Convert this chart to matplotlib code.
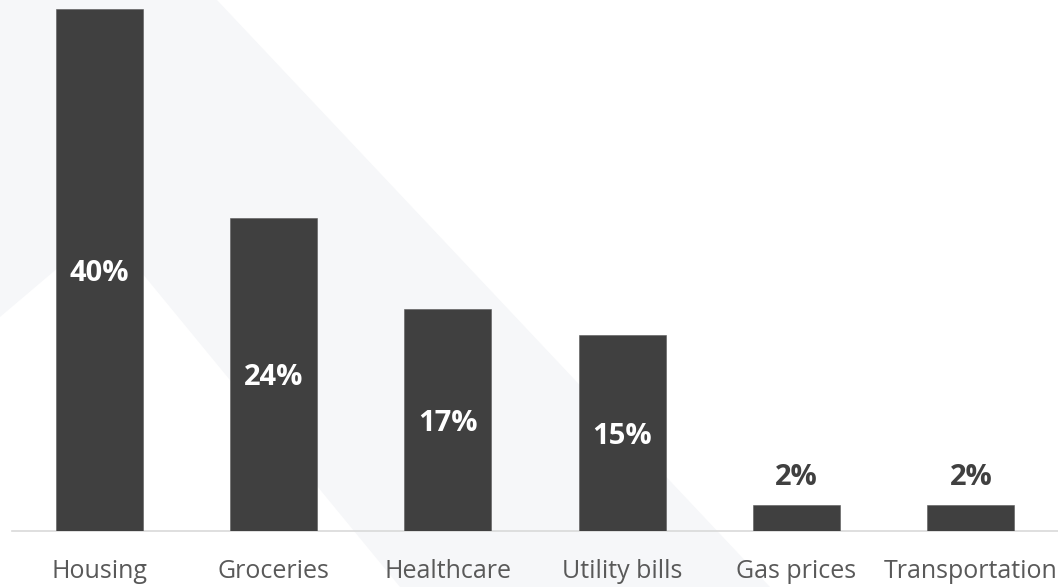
import matplotlib
matplotlib.use('Agg')
import matplotlib.pyplot as plt
from matplotlib.patches import Polygon

# data
categories = ['Housing', 'Groceries', 'Healthcare', 'Utility bills', 'Gas prices', 'Transportation']
shares = [40, 24, 17, 15, 2, 2]
value_labels = ['40%', '24%', '17%', '15%', '2%', '2%']

W, H = 1058, 587
bar_color = '#404040'
plt.rcParams['font.family'] = ['Open Sans', 'DejaVu Sans']

fig = plt.figure(figsize=(W / 100, H / 100), dpi=100)
fig.patch.set_facecolor('white')

# faint decorative shape behind the chart (pixel coords -> figure fraction)
bg_px = [(0, 0), (217, 0), (770, 587), (400, 587), (105, 228), (0, 317)]
bg = Polygon([(x / W, 1 - y / H) for x, y in bg_px], closed=True,
             transform=fig.transFigure, facecolor='#f6f7f9', edgecolor='none', zorder=-5)
fig.add_artist(bg)

ax = fig.add_axes([12 / W, (H - 531) / H, (W - 12) / W, 522 / H])
ax.patch.set_alpha(0)

x = range(len(categories))
bars = ax.bar(x, shares, width=0.5, color=bar_color, edgecolor='#5a5a5a', linewidth=0.4, zorder=2)

ax.set_xlim(-0.5, len(categories) - 0.5)
ax.set_ylim(0, 40)

for rect, val, lab in zip(bars, shares, value_labels):
    cx = rect.get_x() + rect.get_width() / 2
    if val >= 5:
        # inside the bar, roughly centred
        ax.annotate(lab, (cx, val / 2), xytext=(0, -2.5), textcoords='offset points',
                    ha='center', va='center', color='white',
                    fontsize=21, fontweight='bold', zorder=3)
    else:
        ax.annotate(lab, (cx, val), xytext=(0, 19.5), textcoords='offset points',
                    ha='center', va='center', color=bar_color,
                    fontsize=21, fontweight='bold', zorder=3)

ax.set_xticks(list(x))
ax.set_xticklabels(categories, fontsize=18, color='#595959')
ax.tick_params(axis='x', length=0, pad=20.5)
ax.set_yticks([])

for side in ['top', 'right', 'left']:
    ax.spines[side].set_visible(False)
ax.spines['bottom'].set_color('#d9d9d9')
ax.spines['bottom'].set_linewidth(1.2)
ax.spines['bottom'].set_zorder(1)

fig.savefig('out.png', dpi=100)
